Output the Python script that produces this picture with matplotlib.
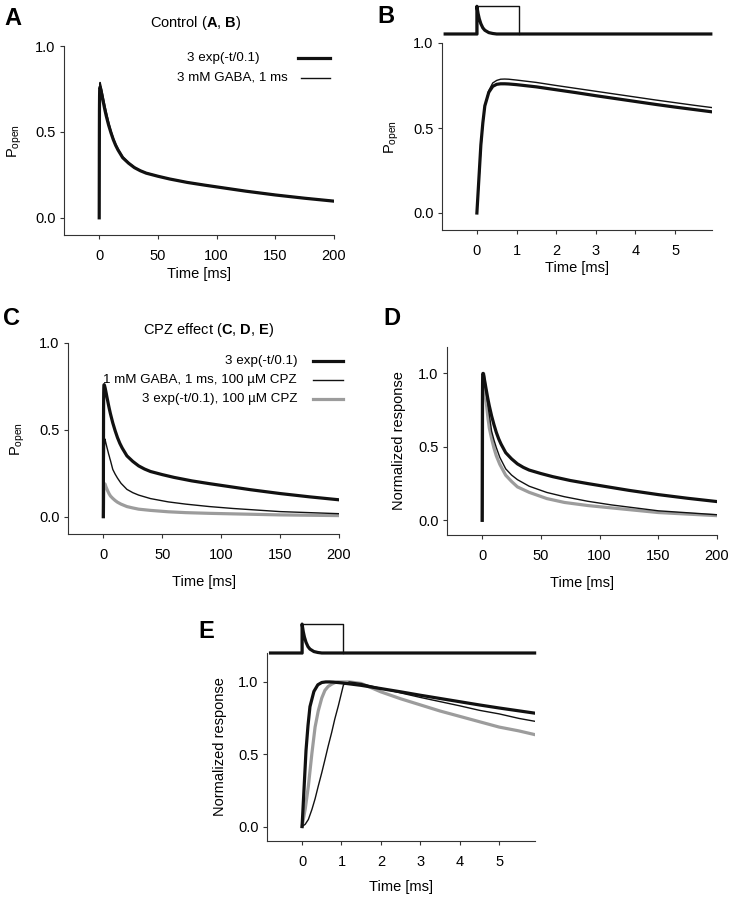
import matplotlib.pyplot as plt
from matplotlib.lines import Line2D
import numpy as np

plt.rcParams['font.family'] = ['Liberation Sans', 'DejaVu Sans']
plt.rcParams['mathtext.fontset'] = 'custom'
plt.rcParams['mathtext.rm'] = 'Liberation Sans'
plt.rcParams['mathtext.bf'] = 'Liberation Sans:bold'
plt.rcParams['mathtext.it'] = 'Liberation Sans:italic'
plt.rcParams['font.size'] = 10

# ---- data ----
# control, time in ms (fine near the peak, coarse later)
t_ctrl = [0, 0.05, 0.1, 0.15, 0.2, 0.3, 0.4, 0.5, 0.6, 0.7, 0.8, 1.0, 1.5, 2, 2.5,
          3, 3.5, 4, 4.5, 5, 5.5, 6, 8, 10, 12, 14, 16, 20, 25, 30,
          35, 40, 50, 60, 75, 90, 100, 125, 150, 175, 200]
p_exp = [0, 0.2, 0.4, 0.53, 0.63, 0.71, 0.745, 0.757, 0.76, 0.76, 0.759, 0.755, 0.742, 0.725, 0.708,
         0.69, 0.673, 0.656, 0.639, 0.623, 0.608, 0.593, 0.54, 0.495, 0.455, 0.422, 0.395, 0.35, 0.318, 0.292,
         0.274, 0.26, 0.242, 0.226, 0.206, 0.19, 0.18, 0.155, 0.133, 0.114, 0.097]
p_gaba = [0, 0.18, 0.38, 0.52, 0.63, 0.72, 0.765, 0.78, 0.787, 0.788, 0.787, 0.782, 0.768, 0.75, 0.733,
          0.716, 0.699, 0.682, 0.665, 0.649, 0.633, 0.618, 0.558, 0.508, 0.465, 0.43, 0.402, 0.356, 0.321, 0.295,
          0.276, 0.262, 0.243, 0.227, 0.207, 0.191, 0.181, 0.156, 0.134, 0.115, 0.098]

# CPZ runs
t_cpz = [0, 0.08, 0.16, 0.25, 0.33, 0.41, 0.5, 0.58, 0.66, 0.75, 0.83, 0.92, 1.05, 1.2, 1.5,
         2, 2.5, 3, 3.5, 4, 4.5, 5, 5.5, 6, 8, 10, 12, 15, 20, 25,
         30, 40, 55, 70, 90, 110, 150, 200]
p_gaba_cpz = [0, 0.007, 0.022, 0.053, 0.086, 0.125, 0.167, 0.207, 0.248, 0.291, 0.333, 0.374, 0.439, 0.448, 0.443,
              0.428, 0.414, 0.4, 0.387, 0.374, 0.36, 0.349, 0.335, 0.324, 0.272, 0.245, 0.222, 0.192, 0.157, 0.138,
              0.124, 0.104, 0.085, 0.072, 0.058, 0.047, 0.029, 0.017]
p_exp_cpz = [0, 0.023, 0.053, 0.096, 0.13, 0.151, 0.168, 0.178, 0.183, 0.186, 0.188, 0.189, 0.189, 0.189, 0.187,
             0.176, 0.167, 0.159, 0.151, 0.144, 0.137, 0.13, 0.125, 0.119, 0.105, 0.093, 0.083, 0.072, 0.058, 0.05,
             0.043, 0.036, 0.028, 0.023, 0.019, 0.016, 0.01, 0.006]

# stimulus sketch above B and E (relative level 0..1)
pulse_t = [0, 0, 1.05, 1.05]
pulse_lvl = [0, 1, 1, 0]
decay_t = [-0.8, 0, 0, 0.03, 0.06, 0.1, 0.15, 0.2, 0.3, 0.4, 0.5, 5.9]
decay_lvl = [0, 0, 1, 0.74, 0.55, 0.37, 0.22, 0.135, 0.05, 0.018, 0, 0]

lbl_exp = '3 exp(-t/0.1)'
lbl_gaba = '3 mM GABA, 1 ms'
lbl_gaba_cpz = '1 mM GABA, 1 ms, 100 µM CPZ'
lbl_exp_cpz = '3 exp(-t/0.1), 100 µM CPZ'

# normalized versions for D and E
n_exp = np.array(p_exp) / max(p_exp)
n_gaba_cpz = np.array(p_gaba_cpz) / max(p_gaba_cpz)
n_exp_cpz = np.array(p_exp_cpz) / max(p_exp_cpz)

W, H = 730, 899
BLACK = '#111111'
GRAY = '#9c9c9c'
THICK = 2.3
THIN = 1.0

fig = plt.figure(figsize=(W / 100, H / 100), dpi=100)


def fx(x):
    return x / W


def fy(y):
    return 1 - y / H


def make_axes(left, top, right, bottom):
    return fig.add_axes([fx(left), fy(bottom), (right - left) / W, (bottom - top) / H])


def style(ax, xlim, ylim, xticks, ylabel, xlab_y, ylab_x=-0.15):
    ax.set_xlim(xlim)
    ax.set_ylim(ylim)
    ax.set_xticks(xticks)
    ax.set_yticks([0, 0.5, 1.0])
    ax.set_yticklabels(['0.0', '0.5', '1.0'])
    for s in ['top', 'right']:
        ax.spines[s].set_visible(False)
    for s in ['left', 'bottom']:
        ax.spines[s].set_color('#333333')
        ax.spines[s].set_linewidth(0.8)
    ax.tick_params(axis='both', direction='out', length=3, width=0.8,
                   colors='#333333', labelcolor='black', labelsize=10.5)
    ax.tick_params(axis='x', pad=7)
    ax.tick_params(axis='y', pad=3)
    ax.set_xlabel('Time [ms]', fontsize=10.5)
    ax.set_ylabel(ylabel, fontsize=10.5)
    ax.xaxis.set_label_coords(0.5, xlab_y)
    ax.yaxis.set_label_coords(ylab_x, 0.5)
    ax.xaxis.label.set_va('top')


def stimulus(ax, base, height):
    ax.plot(pulse_t, [base + height * v for v in pulse_lvl], color=BLACK, lw=THIN, clip_on=False)
    ax.plot(decay_t, [base + height * v for v in decay_lvl], color=BLACK, lw=THICK, clip_on=False)


def legend_rows(entries):
    # entries: (label, text right edge px, y px, line x0, line x1, color, lw)
    for label, xr, y, x0, x1, c, lw in entries:
        fig.text(fx(xr), fy(y), label, ha='right', va='center', fontsize=9.6)
        fig.add_artist(Line2D([fx(x0), fx(x1)], [fy(y), fy(y)], color=c, lw=lw))


popen = r'P$_{\mathrm{open}}$'

# ---- A ----
axA = make_axes(64, 46, 334, 235)
axA.plot(t_ctrl, p_gaba, color=BLACK, lw=THIN)
axA.plot(t_ctrl, p_exp, color=BLACK, lw=THICK)
style(axA, (-30, 200), (-0.1, 1.0), [0, 50, 100, 150, 200], popen, -0.17)
fig.text(fx(196), fy(27), r'Control ($\mathbf{A}$, $\mathbf{B}$)', ha='center', va='baseline', fontsize=10.5)
legend_rows([(lbl_exp, 260, 58, 298, 330, BLACK, THICK),
             (lbl_gaba, 288, 78, 301, 330, BLACK, THIN)])

# ---- B ----
axB = make_axes(442, 43, 712, 230)
axB.plot(t_ctrl, p_gaba, color=BLACK, lw=THIN)
axB.plot(t_ctrl, p_exp, color=BLACK, lw=THICK)
style(axB, (-0.88, 5.93), (-0.1, 1.0), [0, 1, 2, 3, 4, 5], popen, -0.166)
stimulus(axB, 1.053, 0.163)

# ---- C ----
axC = make_axes(68, 343, 339, 534)
axC.plot(t_cpz, p_exp_cpz, color=GRAY, lw=THICK)
axC.plot(t_cpz, p_gaba_cpz, color=BLACK, lw=THIN)
axC.plot(t_ctrl, p_exp, color=BLACK, lw=THICK)
style(axC, (-30, 200), (-0.1, 1.0), [0, 50, 100, 150, 200], popen, -0.215)
fig.text(fx(209), fy(334), r'CPZ effect ($\mathbf{C}$, $\mathbf{D}$, $\mathbf{E}$)', ha='center', va='baseline', fontsize=10.5)
legend_rows([(lbl_exp, 298, 361, 313, 343, BLACK, THICK),
             (lbl_gaba_cpz, 297, 380, 313, 343, BLACK, THIN),
             (lbl_exp_cpz, 297, 399, 313, 343, GRAY, THICK)])

# ---- D ----
axD = make_axes(447, 347, 717, 535)
axD.plot(t_cpz, n_exp_cpz, color=GRAY, lw=THICK)
axD.plot(t_cpz, n_gaba_cpz, color=BLACK, lw=THIN)
axD.plot(t_ctrl, n_exp, color=BLACK, lw=THICK)
style(axD, (-30, 200), (-0.1, 1.18), [0, 50, 100, 150, 200], 'Normalized response', -0.218)

# ---- E ----
axE = make_axes(267, 653, 535, 841)
axE.plot(t_cpz, n_exp_cpz, color=GRAY, lw=THICK)
axE.plot(t_cpz, n_gaba_cpz, color=BLACK, lw=THIN)
axE.plot(t_ctrl, n_exp, color=BLACK, lw=THICK)
style(axE, (-0.89, 5.91), (-0.1, 1.2), [0, 1, 2, 3, 4, 5], 'Normalized response', -0.207)
stimulus(axE, 1.2, 0.2)

# panel letters
for letter, x, y in [('A', 4, 25), ('B', 377, 23), ('C', 3, 325), ('D', 383, 325), ('E', 198, 638)]:
    fig.text(fx(x), fy(y), letter, fontsize=17, fontweight='bold', va='baseline', ha='left')

fig.savefig('out.png', dpi=100)
